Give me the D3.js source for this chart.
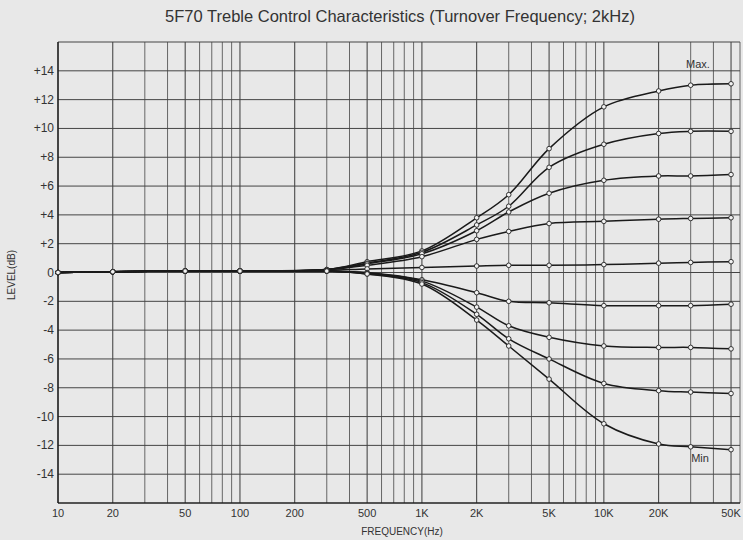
<!DOCTYPE html>
<html><head><meta charset="utf-8">
<script src="https://cdn.jsdelivr.net/npm/d3@7/dist/d3.min.js"></script>
<style>
body{margin:0;background:#e8e8e8;}
text{font-family:"Liberation Sans Narrow","Liberation Sans","DejaVu Sans Condensed",sans-serif;fill:#333;}
</style></head>
<body><svg id="c" width="743" height="540"></svg>
<script>
const freqs = [10,20,50,100,300,500,1000,2000,3000,5000,10000,20000,30000,50000];
const seriesMax = [0,0.05,0.1,0.1,0.2,0.75,1.5,3.8,5.4,8.6,11.5,12.6,13.0,13.1];
const seriesB2  = [0,0.05,0.1,0.1,0.2,0.65,1.4,3.3,4.6,7.3,8.9,9.65,9.8,9.8];
const seriesB3  = [0,0.05,0.1,0.1,0.2,0.6,1.3,2.9,4.2,5.5,6.4,6.7,6.7,6.8];
const seriesB4  = [0,0.05,0.1,0.1,0.2,0.5,1.1,2.3,2.85,3.4,3.55,3.7,3.75,3.8];
const seriesFlat= [0,0.05,0.1,0.1,0.15,0.25,0.35,0.45,0.5,0.5,0.55,0.65,0.7,0.75];
const seriesC1  = [0,0.05,0.1,0.1,0.1,0,-0.5,-1.4,-2.0,-2.1,-2.3,-2.3,-2.3,-2.2];
const seriesC2  = [0,0.05,0.1,0.1,0.1,-0.05,-0.6,-2.4,-3.7,-4.5,-5.1,-5.2,-5.2,-5.3];
const seriesC3  = [0,0.05,0.1,0.1,0.1,-0.1,-0.7,-2.9,-4.6,-6.0,-7.7,-8.2,-8.3,-8.4];
const seriesMin = [0,0.05,0.1,0.1,0.1,-0.1,-0.8,-3.3,-5.1,-7.4,-10.5,-11.9,-12.1,-12.3];
const allSeries = [seriesMax,seriesB2,seriesB3,seriesB4,seriesFlat,seriesC1,seriesC2,seriesC3,seriesMin];
const xTickVals = [10,20,50,100,200,500,1000,2000,5000,10000,20000,50000];
const xTickLabels = ["10","20","50","100","200","500","1K","2K","5K","10K","20K","50K"];
const yTickVals = [14,12,10,8,6,4,2,0,-2,-4,-6,-8,-10,-12,-14];
const yTickLabels = ["+14","+12","+10","+8","+6","+4","+2","0","-2","-4","-6","-8","-10","-12","-14"];
const titleText = "5F70 Treble Control Characteristics (Turnover Frequency; 2kHz)";

const svg = d3.select("#c");
const x = d3.scaleLog().domain([10,56000]).range([58,740]);
const y = d3.scaleLinear().domain([-16,16]).range([503,42]);

// grid
const gridX = [];
for (let d=10; d<=10000; d*=10) for (let m=1; m<10; m++) { const v=d*m; if (v<=56000) gridX.push(v); }
gridX.push(56000);
svg.append("g").selectAll("line").data(gridX).join("line")
  .attr("x1",d=>x(d)).attr("x2",d=>x(d)).attr("y1",y(16)).attr("y2",y(-16))
  .attr("stroke",d=>{const m=d/Math.pow(10,Math.floor(Math.log10(d)+1e-9));return (Math.abs(m-1)<1e-6||Math.abs(m-2)<1e-6||Math.abs(m-5)<1e-6)?"#3a3a3a":"#666";})
  .attr("stroke-width",1);
const gridY = d3.range(-16,17,2);
svg.append("g").selectAll("line").data(gridY).join("line")
  .attr("x1",x(10)).attr("x2",x(56000)).attr("y1",d=>y(d)).attr("y2",d=>y(d))
  .attr("stroke","#444").attr("stroke-width",1);

// axes
svg.append("line").attr("x1",x(10)).attr("x2",x(10)).attr("y1",y(16)).attr("y2",y(-16)).attr("stroke","#111").attr("stroke-width",1.2);
svg.append("line").attr("x1",x(10)).attr("x2",x(56000)).attr("y1",y(-16)).attr("y2",y(-16)).attr("stroke","#111").attr("stroke-width",1.2);

svg.append("g").selectAll("text").data(yTickVals).join("text")
  .attr("x",54).attr("y",d=>y(d)+4).attr("text-anchor","end").attr("font-size",12)
  .text((d,i)=>yTickLabels[i]);
svg.append("g").selectAll("text").data(xTickVals).join("text")
  .attr("x",d=>x(d)).attr("y",517).attr("text-anchor","middle").attr("font-size",11)
  .text((d,i)=>xTickLabels[i]);

svg.append("text").attr("x",400).attr("y",22).attr("text-anchor","middle").attr("font-size",16.5).text(titleText);
svg.append("text").attr("x",402).attr("y",535).attr("text-anchor","middle").attr("font-size",10).text("FREQUENCY(Hz)");
svg.append("text").attr("transform","translate(15,275) rotate(-90)").attr("text-anchor","middle").attr("font-size",10).text("LEVEL(dB)");

// curves
const line = d3.line().x((d,i)=>x(freqs[i])).y(d=>y(d)).curve(d3.curveCatmullRom.alpha(0.5));
svg.append("g").selectAll("path").data(allSeries).join("path")
  .attr("d",line).attr("fill","none").attr("stroke","#1a1a1a").attr("stroke-width",1.5);
const g = svg.append("g");
allSeries.forEach(s=>{
  g.selectAll(null).data(s).join("circle")
   .attr("cx",(d,i)=>x(freqs[i])).attr("cy",d=>y(d)).attr("r",2.3)
   .attr("fill","#f2f2f2").attr("stroke","#222").attr("stroke-width",0.9);
});

svg.append("text").attr("x",698).attr("y",y(14.2)).attr("text-anchor","middle").attr("font-size",11).text("Max.");
svg.append("text").attr("x",700).attr("y",y(-12.8)+5).attr("text-anchor","middle").attr("font-size",11).text("Min");
</script></body></html>
